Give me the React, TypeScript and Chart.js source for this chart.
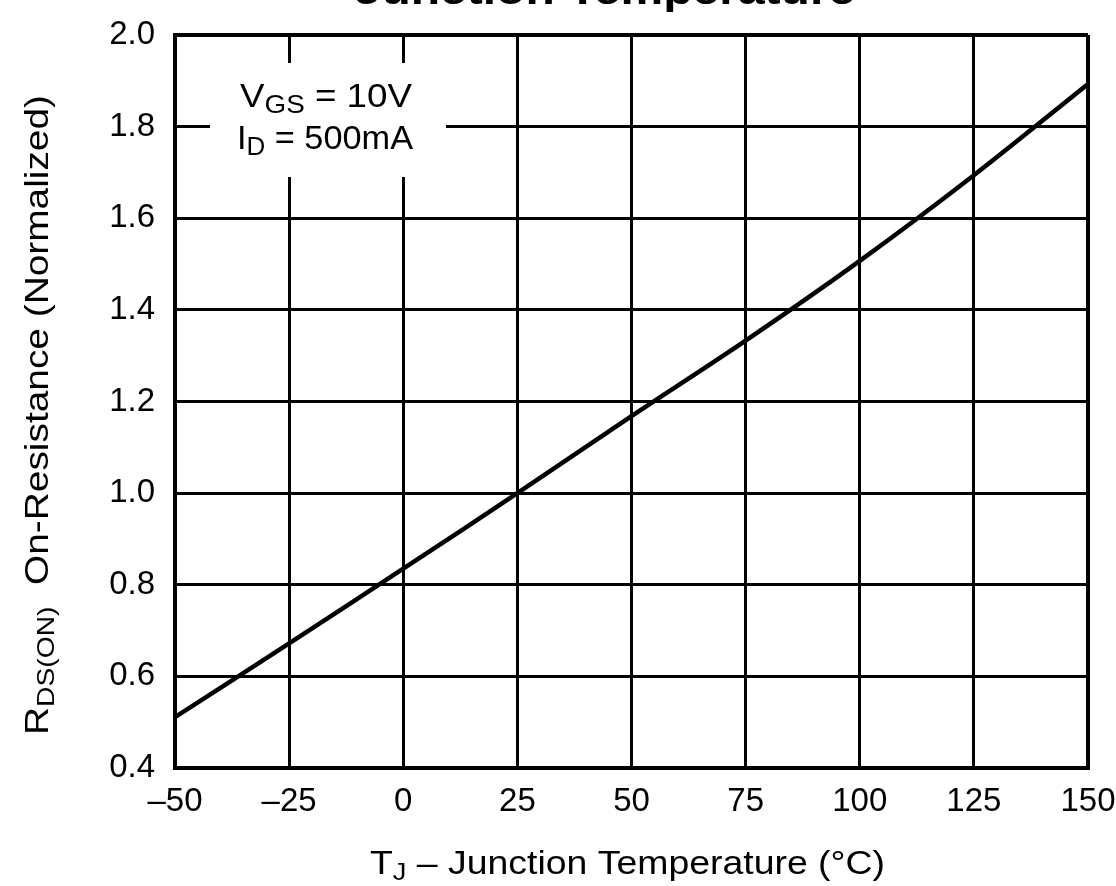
import React, { useEffect, useRef } from "react";
import { Chart, registerables } from "chart.js";

Chart.register(...registerables);

const temperatures = [-50, -25, 0, 25, 50, 75, 100, 125, 150];
const rdsOn = [0.511, 0.672, 0.835, 1.0, 1.168, 1.333, 1.507, 1.694, 1.893];
const xTickLabels: Record<string, string> = {
  "-50": "\u201350",
  "-25": "\u201325",
  "0": "0",
  "25": "25",
  "50": "50",
  "75": "75",
  "100": "100",
  "125": "125",
  "150": "150",
};
const titleText = "Junction Temperature";
const xTitleParts: [string, boolean][] = [["T", false], ["J", true], [" \u2013 Junction Temperature (\u00B0C)", false]];
const yTitleParts: [string, boolean][] = [["R", false], ["DS(ON)", true], ["  On-Resistance (Normalized)", false]];
const noteLine1: [string, boolean][] = [["V", false], ["GS", true], [" = 10V", false]];
const noteLine2: [string, boolean][] = [["I", false], ["D", true], [" = 500mA", false]];

const FONT = "'Liberation Sans', Arial, Helvetica, sans-serif";

function measureParts(ctx: CanvasRenderingContext2D, parts: [string, boolean][], size: number, subSize: number) {
  let w = 0;
  for (const [t, sub] of parts) {
    ctx.font = `${sub ? subSize : size}px ${FONT}`;
    w += ctx.measureText(t).width;
  }
  return w;
}

function drawParts(
  ctx: CanvasRenderingContext2D,
  parts: [string, boolean][],
  size: number,
  subSize: number,
  subShift: number
) {
  let cx = 0;
  ctx.textAlign = "left";
  ctx.textBaseline = "alphabetic";
  for (const [t, sub] of parts) {
    ctx.font = `${sub ? subSize : size}px ${FONT}`;
    ctx.fillText(t, cx, sub ? subShift : 0);
    cx += ctx.measureText(t).width;
  }
}

function drawStretched(
  ctx: CanvasRenderingContext2D,
  parts: [string, boolean][],
  startX: number,
  baseline: number,
  targetWidth: number,
  size: number,
  subSize: number,
  subShift: number,
  rotate = false
) {
  const w = measureParts(ctx, parts, size, subSize);
  const sx = targetWidth / w;
  ctx.save();
  ctx.translate(startX, baseline);
  if (rotate) ctx.rotate(-Math.PI / 2);
  ctx.scale(sx, 1);
  drawParts(ctx, parts, size, subSize, subShift);
  ctx.restore();
}

const annotations = {
  id: "annotations",
  afterDraw(chart: any) {
    const ctx: CanvasRenderingContext2D = chart.ctx;
    ctx.save();
    ctx.fillStyle = "#000";
    ctx.save();
    ctx.translate(605, 4);
    ctx.scale(1.2, 1);
    ctx.font = `bold 40px ${FONT}`;
    ctx.textAlign = "center";
    ctx.textBaseline = "alphabetic";
    ctx.fillText(titleText, 0, 0);
    ctx.restore();

    ctx.fillStyle = "#fff";
    ctx.fillRect(210, 63, 236, 114);
    ctx.fillStyle = "#000";
    drawStretched(ctx, noteLine1, 240, 107, 172, 33, 25, 6);
    drawStretched(ctx, noteLine2, 237, 149, 176, 33, 25, 6);

    drawStretched(ctx, xTitleParts, 370, 874, 515, 33, 24, 6);

    drawStretched(ctx, yTitleParts, 48, 735, 640, 33, 24, 6, true);
    ctx.restore();
  },
};

export default function App() {
  const canvasRef = useRef<HTMLCanvasElement | null>(null);

  useEffect(() => {
    document.body.style.margin = "0";
    const canvas = canvasRef.current!;
    const chart = new Chart(canvas, {
      type: "line",
      data: {
        datasets: [
          {
            data: temperatures.map((t, i) => ({ x: t, y: rdsOn[i] })),
            borderColor: "#000",
            borderWidth: 4.5,
            pointRadius: 0,
            tension: 0.3,
            fill: false,
          },
        ],
      },
      options: {
        responsive: false,
        animation: false,
        devicePixelRatio: 1,
        layout: { padding: { top: 35, right: 28, left: 0, bottom: 0 } },
        plugins: { legend: { display: false }, tooltip: { enabled: false }, title: { display: false } },
        scales: {
          x: {
            type: "linear",
            min: -50,
            max: 150,
            afterFit: (s: any) => {
              s.height = 886 - 768;
              s.paddingLeft = 0;
              s.paddingRight = 0;
            },
            ticks: {
              stepSize: 25,
              color: "#000",
              padding: 14,
              font: { family: FONT, size: 33 },
              callback: (v: any) => xTickLabels[String(v)] ?? String(v),
              maxRotation: 0,
            },
            grid: {
              color: "#000",
              lineWidth: (c: any) => (c.tick && (c.tick.value === 150 || c.tick.value === -50) ? 4 : 3),
              drawTicks: false,
            },
            border: { display: true, color: "#000", width: 4 },
          },
          y: {
            type: "linear",
            min: 0.4,
            max: 2.0,
            afterFit: (s: any) => {
              s.width = 175;
              s.paddingTop = 0;
              s.paddingBottom = 0;
            },
            ticks: {
              stepSize: 0.2,
              color: "#000",
              padding: 20,
              font: { family: FONT, size: 33 },
              callback: (v: any) => Number(v).toFixed(1),
            },
            grid: {
              color: "#000",
              lineWidth: (c: any) =>
                c.tick && (Math.abs(c.tick.value - 2.0) < 1e-6 || Math.abs(c.tick.value - 0.4) < 1e-6) ? 4 : 3,
              drawTicks: false,
            },
            border: { display: true, color: "#000", width: 4 },
          },
        },
      },
      plugins: [annotations],
    });
    return () => chart.destroy();
  }, []);

  return (
    <div style={{ width: 1116, height: 886, background: "#fff" }}>
      <canvas ref={canvasRef} width={1116} height={886} style={{ display: "block" }} />
    </div>
  );
}
